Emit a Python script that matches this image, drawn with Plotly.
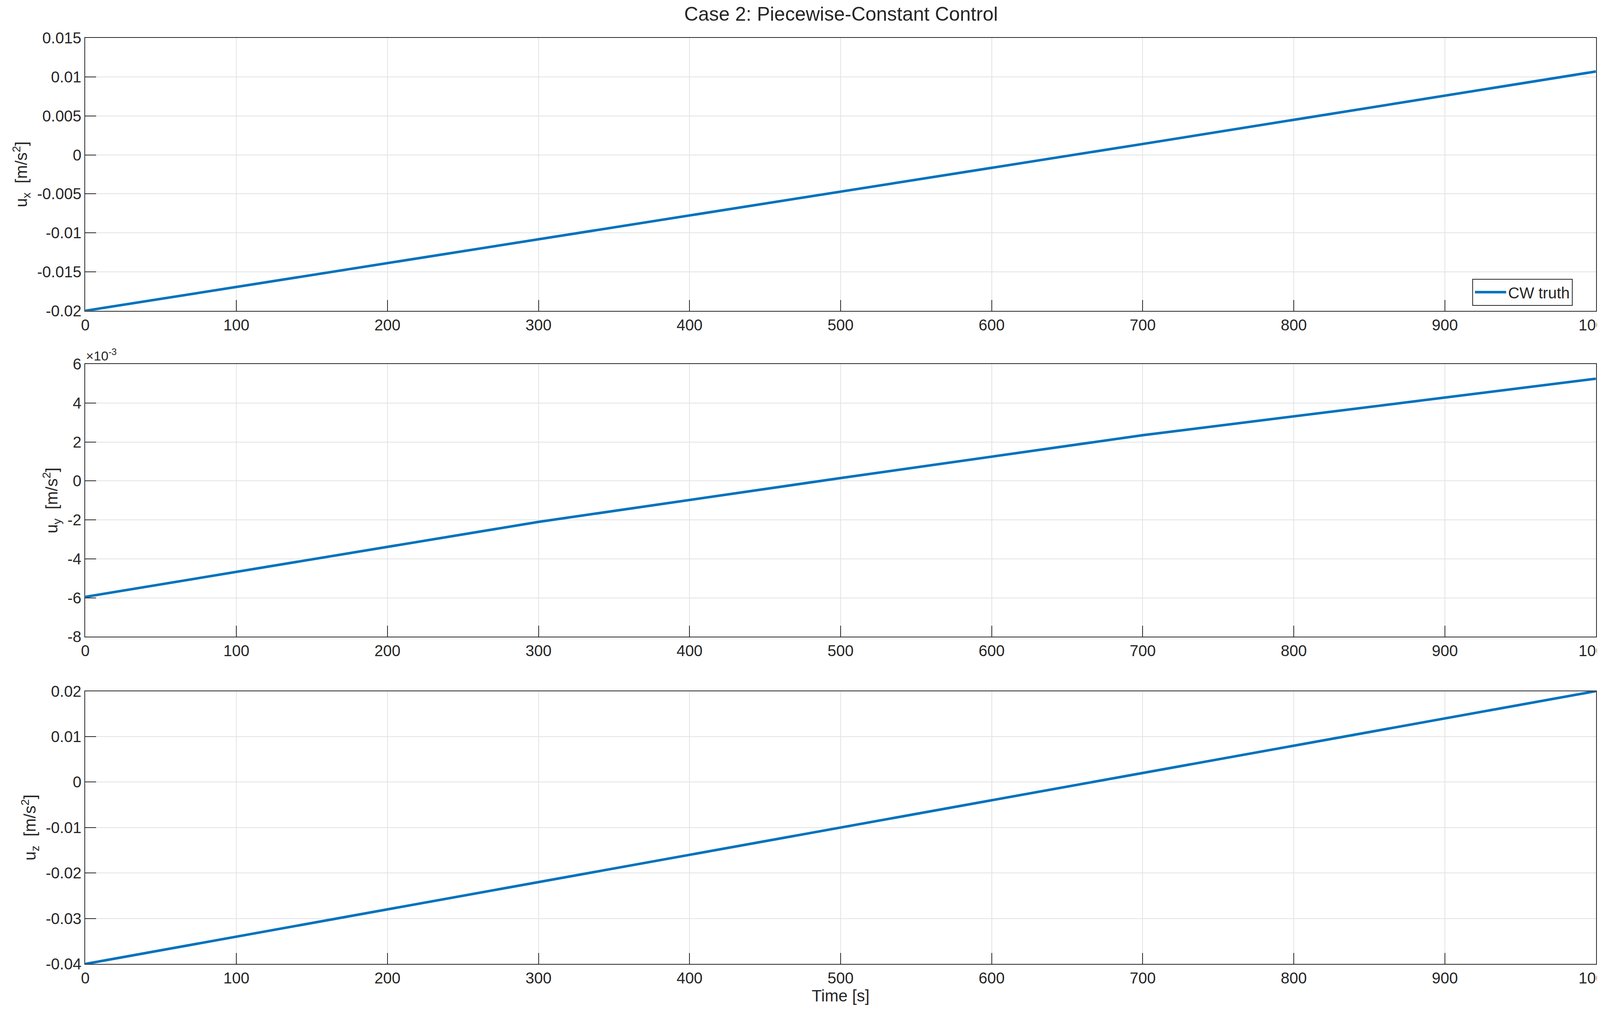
import plotly.graph_objs as go
from plotly.subplots import make_subplots

time_s = [0, 300, 500, 700, 1000]
ux = [-0.0200, -0.0108, -0.0047, 0.0014, 0.0107]
uy = [-0.00595, -0.0021, 0.00015, 0.00235, 0.00525]
uz = [-0.0400, -0.0220, -0.0100, 0.0020, 0.0200]

blue = '#0072BD'
fnt = dict(family='Liberation Sans, Arial', size=40, color='#262626')

fig = make_subplots(rows=3, cols=1)
fig.add_trace(go.Scatter(x=time_s, y=ux, mode='lines', name='CW truth',
                         line=dict(color=blue, width=6.5)), row=1, col=1)
fig.add_trace(go.Scatter(x=time_s, y=uy, mode='lines', showlegend=False,
                         line=dict(color=blue, width=6.5)), row=2, col=1)
fig.add_trace(go.Scatter(x=time_s, y=uz, mode='lines', showlegend=False,
                         line=dict(color=blue, width=6.5)), row=3, col=1)

ax = dict(showline=True, mirror=True, linecolor='#262626', linewidth=2,
          ticks='inside', ticklen=28, tickwidth=2, tickcolor='#262626',
          showgrid=True, gridcolor='#e3e3e3', gridwidth=2, zeroline=False,
          tickfont=fnt, automargin=False)
doms = [(0.6954, 0.9655), (0.3726, 0.6426), (0.0487, 0.3188)]
for i, d in enumerate(doms):
    n = '' if i == 0 else str(i + 1)
    fig.layout['xaxis' + n].update(domain=[0.0510, 0.9885], range=[0, 1000], dtick=100, **ax)
    fig.layout['yaxis' + n].update(domain=list(d), **ax)

tfont = dict(family=fnt['family'], size=42, color='#262626')
fig.layout.yaxis.update(range=[-0.02, 0.015], tickvals=[-0.02, -0.015, -0.01, -0.005, 0, 0.005, 0.01, 0.015],
                        ticktext=['-0.02', '-0.015', '-0.01', '-0.005', '0', '0.005', '0.01', '0.015'],
                        title=dict(text='u<sub>x</sub>  [m/s<sup>2</sup>]', font=tfont, standoff=12))
fig.layout.yaxis2.update(range=[-0.008, 0.006], tickvals=[-0.008, -0.006, -0.004, -0.002, 0, 0.002, 0.004, 0.006],
                         ticktext=['-8', '-6', '-4', '-2', '0', '2', '4', '6'],
                         title=dict(text='u<sub>y</sub>  [m/s<sup>2</sup>]', font=tfont, standoff=12))
fig.layout.yaxis3.update(range=[-0.04, 0.02], tickvals=[-0.04, -0.03, -0.02, -0.01, 0, 0.01, 0.02],
                         ticktext=['-0.04', '-0.03', '-0.02', '-0.01', '0', '0.01', '0.02'],
                         title=dict(text='u<sub>z</sub>  [m/s<sup>2</sup>]', font=tfont, standoff=12))
fig.layout.xaxis3.update(title=dict(text='Time [s]', font=tfont, standoff=8))

fig.add_annotation(x=0.0510, y=0.6426, xref='paper', yref='paper', xanchor='left', yanchor='bottom',
                   text='×10<sup>-3</sup>', showarrow=False, font=dict(family=fnt['family'], size=34, color='#262626'))

fig.update_layout(
    width=4125, height=2586, plot_bgcolor='white', paper_bgcolor='white',
    margin=dict(l=0, r=0, t=0, b=0),
    title=dict(text='Case 2: Piecewise-Constant Control', x=0.52, xanchor='center',
               y=0.9895, yanchor='middle', font=dict(family=fnt['family'], size=50, color='#262626')),
    legend=dict(x=0.974, xanchor='right', y=0.7005, yanchor='bottom', bgcolor='white',
                bordercolor='#262626', borderwidth=2, font=fnt, itemwidth=80),
)

fig.write_html('out.html')
